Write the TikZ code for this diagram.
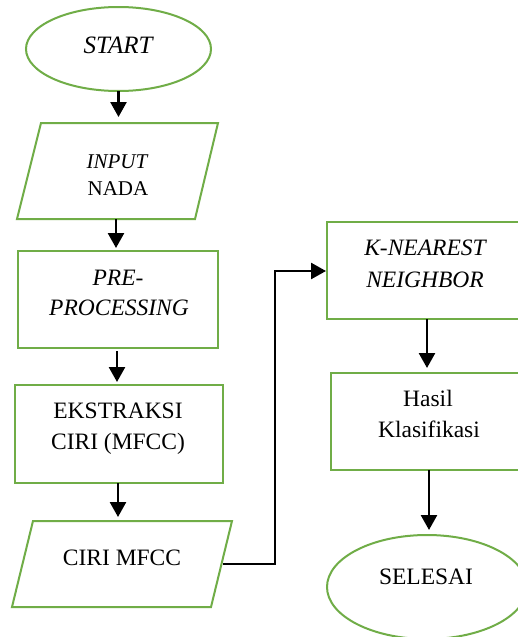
\documentclass[tikz,border=0pt]{standalone}
\usepackage{fontspec}
\setmainfont{Liberation Serif}
\usetikzlibrary{shapes.geometric,arrows.meta,calc}
\definecolor{flowgreen}{RGB}{112,173,71}
\begin{document}
\begin{tikzpicture}[x=1pt,y=-1pt,
  every node/.style={inner sep=0pt, outer sep=0pt},
  box/.style={draw=flowgreen, line width=2pt, rectangle, fill=white},
  oval/.style={draw=flowgreen, line width=2pt, ellipse, fill=white},
  ghost/.style={draw=none, rectangle},
  para/.style={draw=flowgreen, line width=2pt, line join=miter},
  txt/.style={anchor=base, font=\fontsize{23.5}{30}\selectfont},
  txts/.style={anchor=base, font=\fontsize{21}{26}\selectfont},
  flow/.style={draw=black, line width=2.6pt, -{Triangle[width=16pt,length=15pt]}}]
\useasboundingbox (0,0) rectangle (518,637);
\clip (0,0) rectangle (518,637);
\fill[white] (0,0) rectangle (518,637);

% shapes
\node[oval, minimum width=185, minimum height=84] (start) at (118.5,49) {};
\node[ghost, minimum width=201, minimum height=96] (inp) at (117.5,171) {};
\draw[para] ($(inp.north west)+(24,0)$) -- (inp.north east) -- ($(inp.south east)+(-23,0)$) -- (inp.south west) -- cycle;
\node[box, minimum width=200, minimum height=97] (pre) at (118,299.5) {};
\node[box, minimum width=208, minimum height=98] (eks) at (119,434) {};
\node[ghost, minimum width=220, minimum height=86] (ciri) at (122,564) {};
\draw[para] ($(ciri.north west)+(21,0)$) -- (ciri.north east) -- ($(ciri.south east)+(-21,0)$) -- (ciri.south west) -- cycle;
\coordinate (ciriR) at ($(ciri.east)+(-9,0)$);
\node[box, minimum width=200, minimum height=97] (knn) at (427,270.5) {};
\node[box, minimum width=196, minimum height=97] (hasil) at (429,421.5) {};
\node[oval, minimum width=200, minimum height=104] (selesai) at (427,587) {};

% texts
\node[txt, font=\fontsize{25}{30}\selectfont\itshape] (tStart) at (118,53) {START};
\node[txts, font=\fontsize{21}{26}\selectfont\itshape] (tInpA) at (117,168) {INPUT};
\node[txts] (tInpB) at (118,195) {NADA};
\node[txt, font=\fontsize{23.5}{30}\selectfont\itshape] (tPreA) at (118,285) {PRE-};
\node[txt, font=\fontsize{23.5}{30}\selectfont\itshape] (tPreB) at (119,315) {PROCESSING};
\node[txt] (tEksA) at (118,418) {EKSTRAKSI};
\node[txt] (tEksB) at (118,449) {CIRI (MFCC)};
\node[txt] (tCiri) at (122,565) {CIRI MFCC};
\node[txt, font=\fontsize{23.5}{30}\selectfont\itshape] (tKnnA) at (425,255) {K-NEAREST};
\node[txt, font=\fontsize{23.5}{30}\selectfont\itshape] (tKnnB) at (425,287) {NEIGHBOR};
\node[txt] (tHasA) at (428,406) {Hasil};
\node[txt] (tHasB) at (429,437) {Klasifikasi};
\node[txt] (tSel) at (426,584) {SELESAI};

% connectors
\draw[flow, shorten >=6pt] (start.south) -- (start.south |- inp.north);
\draw[flow, shorten >=3pt] ([xshift=-1.5pt]inp.south) -- ([xshift=-1.5pt]inp.south |- pre.north);
\draw[flow, shorten <=3pt, shorten >=3pt] ([xshift=-1pt]pre.south) -- ([xshift=-1pt]pre.south |- eks.north);
\draw[flow, shorten >=4pt] ([xshift=-1pt]eks.south) -- ([xshift=-1pt]eks.south |- ciri.north);
\draw[flow, shorten >=1pt] (ciriR) -| (275,271) -- (knn.west |- 0,271);
\draw[flow, shorten >=5pt] (knn.south) -- (knn.south |- hasil.north);
\draw[flow, shorten >=5pt] (hasil.south) -- (hasil.south |- selesai.north);
\end{tikzpicture}
\end{document}
